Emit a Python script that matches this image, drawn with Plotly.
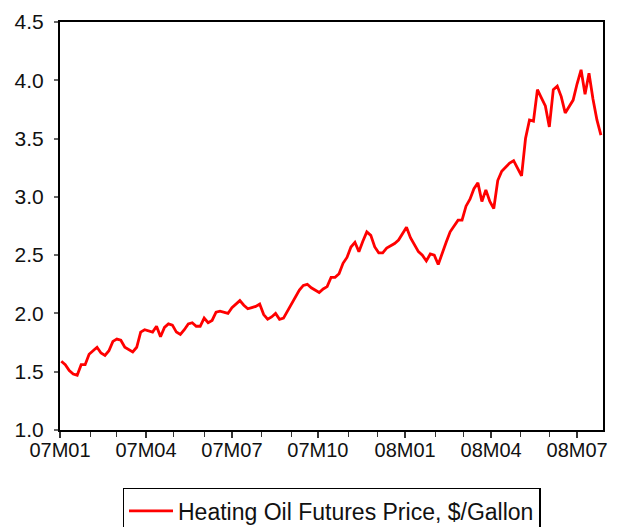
import pandas as pd
import plotly.graph_objects as go

# Heating oil futures price ($/gallon), sampled every 3rd business day from 2007-01-02
start_date = "2007-01-02"
step = "3B"
prices = [
    1.59, 1.56, 1.51, 1.48, 1.47, 1.56, 1.56, 1.65, 1.68, 1.71,
    1.66, 1.64, 1.68, 1.76, 1.78, 1.77, 1.71, 1.69, 1.67, 1.71,
    1.84, 1.86, 1.85, 1.84, 1.89, 1.80, 1.88, 1.91, 1.90, 1.84,
    1.82, 1.86, 1.91, 1.92, 1.89, 1.89, 1.96, 1.92, 1.94, 2.01,
    2.02, 2.01, 2.00, 2.05, 2.08, 2.11, 2.07, 2.04, 2.05, 2.06,
    2.08, 1.99, 1.95, 1.97, 2.00, 1.95, 1.96, 2.02, 2.07, 2.14,
    2.20, 2.24, 2.25, 2.22, 2.20, 2.18, 2.21, 2.23, 2.31, 2.31,
    2.34, 2.43, 2.48, 2.57, 2.61, 2.53, 2.62, 2.70, 2.67, 2.57,
    2.52, 2.52, 2.56, 2.58, 2.60, 2.63, 2.68, 2.74, 2.65, 2.59,
    2.53, 2.50, 2.45, 2.51, 2.50, 2.42, 2.52, 2.61, 2.70, 2.75,
    2.80, 2.80, 2.92, 2.98, 3.07, 3.12, 2.96, 3.06, 2.96, 2.90,
    3.14, 3.22, 3.26, 3.29, 3.31, 3.24, 3.18, 3.50, 3.66, 3.65,
    3.92, 3.85, 3.78, 3.60, 3.92, 3.95, 3.86, 3.72, 3.77, 3.83,
    3.97, 4.09, 3.88, 4.06, 3.84, 3.66, 3.53,
]
dates = pd.bdate_range(start=start_date, periods=len(prices), freq=step)

series_name = "Heating Oil Futures Price, $/Gallon"
# first business day of each labelled month
major_ticks = ["2007-01-01", "2007-04-02", "2007-07-02", "2007-10-01",
               "2008-01-01", "2008-04-01", "2008-07-01"]
major_labels = ["07M01", "07M04", "07M07", "07M10", "08M01", "08M04", "08M07"]
minor_ticks = [str(d.date()) for d in pd.date_range("2007-01-01", "2008-07-01", freq="BMS")]

fig = go.Figure()
fig.add_trace(go.Scatter(
    x=dates, y=prices, mode="lines", name=series_name,
    line=dict(color="#ff0000", width=2.8),
    showlegend=True,
))

font_family = "Liberation Sans, Arial, sans-serif"

fig.update_layout(
    width=621, height=527,
    margin=dict(l=60, r=18, t=22, b=97, autoexpand=False),
    paper_bgcolor="white", plot_bgcolor="white",
    font=dict(family=font_family, size=20, color="#111111"),
    showlegend=True,
    legend=dict(
        orientation="h", x=0.5, xanchor="center", y=-0.142, yanchor="top",
        bordercolor="#000000", borderwidth=1.5, bgcolor="white",
        itemwidth=44,
        font=dict(family=font_family, size=23, color="#111111"),
    ),
    xaxis=dict(
        type="date",
        range=["2007-01-01", "2008-07-28 14:00"],
        rangebreaks=[dict(bounds=["sat", "mon"])],
        tickmode="array", tickvals=major_ticks, ticktext=major_labels,
        ticks="outside", ticklen=6, tickwidth=1.5, tickcolor="#333333",
        ticklabelstandoff=-5,
        minor=dict(tickmode="array", tickvals=minor_ticks, ticks="outside",
                   ticklen=5, tickwidth=1.2, tickcolor="#333333", showgrid=False),
        showline=True, linecolor="#000000", linewidth=2, mirror=True,
        showgrid=False, zeroline=False,
        tickfont=dict(size=20),
    ),
    yaxis=dict(
        range=[1.0, 4.5], dtick=0.5, tick0=1.0, tickformat=".1f",
        ticks="outside", ticklen=4, tickwidth=1.5, tickcolor="#666666",
        ticklabelstandoff=6,
        showline=True, linecolor="#000000", linewidth=2, mirror=True,
        showgrid=False, zeroline=False,
        tickfont=dict(size=21),
    ),
)

fig.write_html("out.html", config={"displayModeBar": False},
               post_script="document.body.style.margin='0';")
